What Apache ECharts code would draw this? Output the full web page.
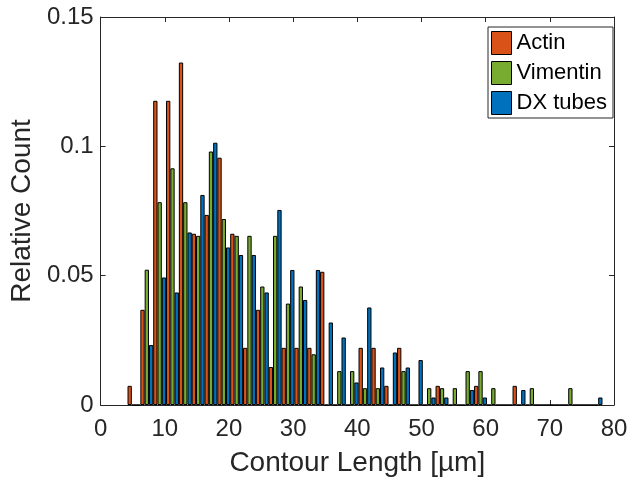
<!DOCTYPE html>
<html><head><meta charset="utf-8">
<script src="https://cdn.jsdelivr.net/npm/echarts@6/dist/echarts.min.js"></script>
<style>html,body{margin:0;padding:0;background:#fff}#c{width:632px;height:482px}</style>
</head><body><div id="c"></div>
<script>
// Bin centres (µm)
const binCenters = [5.2, 7.2, 9.2, 11.2, 13.2, 15.2, 17.2, 19.2, 21.2, 23.2, 25.2, 27.2, 29.2, 31.2, 33.2, 35.2, 37.2, 39.2, 41.2, 43.2, 45.2, 47.2, 49.2, 51.2, 53.2, 55.2, 57.2, 59.2, 61.2, 63.2, 65.2, 67.2, 69.2, 71.2, 73.2, 75.2, 77.2];
const actin = [0.0074, 0.0368, 0.1176, 0.1176, 0.1324, 0.0662, 0.0735, 0.0956, 0.0662, 0.0221, 0.0368, 0.0147, 0.0221, 0.0221, 0.0221, 0.0515, 0, 0, 0.0221, 0.0221, 0.0074, 0.0221, 0, 0, 0.0074, 0, 0, 0.0074, 0, 0, 0.0074, 0, 0, 0, 0, 0, 0];
const vimentin = [0, 0.0523, 0.0784, 0.0915, 0.0784, 0.0654, 0.0980, 0.0719, 0.0654, 0.0654, 0.0458, 0.0654, 0.0392, 0.0458, 0.0196, 0, 0.0131, 0.0131, 0.0065, 0.0065, 0, 0.0131, 0, 0.0065, 0.0065, 0.0065, 0.0131, 0.0131, 0.0065, 0, 0, 0.0065, 0, 0, 0.0065, 0, 0];
const dxTubes = [0, 0.0232, 0.0493, 0.0435, 0.0667, 0.0812, 0.1014, 0.0609, 0.0580, 0.0580, 0.0435, 0.0754, 0.0522, 0.0406, 0.0522, 0.0319, 0.0261, 0.0087, 0.0377, 0.0145, 0.0203, 0.0145, 0.0174, 0.0029, 0.0029, 0, 0.0058, 0.0029, 0, 0, 0.0058, 0, 0, 0, 0, 0, 0.0029];
const seriesNames = ['Actin', 'Vimentin', 'DX tubes'];
const seriesColors = ['#D95319', '#77AC30', '#0072BD'];
const xTicks = {min: 0, max: 80, interval: 10};
const yTicks = {min: 0, max: 0.15, interval: 0.05};
const binWidth = 2;

const W = 632, H = 482;
const grid = {left: 97, right: 18, top: 17, bottom: 75};
const pxPerUnit = (W - grid.left - grid.right) / (xTicks.max - xTicks.min);
const barW = pxPerUnit * binWidth / 3;
const axisCol = '#262626';
const font = "'Liberation Sans', Arial, Helvetica, sans-serif";

function mk(name, vals, color) {
  return {
    name: name, type: 'bar', xAxisIndex: 0, yAxisIndex: 0,
    data: binCenters.map((c, i) => [c, vals[i]]),
    barWidth: barW, barGap: '0%',
    itemStyle: {color: color, borderColor: '#000', borderWidth: 1},
    emphasis: {disabled: true}
  };
}

const chart = echarts.init(document.getElementById('c'), null, {renderer: 'canvas'});
const baseX = {type: 'value', min: xTicks.min, max: xTicks.max, interval: xTicks.interval,
  splitLine: {show: false},
  axisLine: {show: true, onZero: false, lineStyle: {color: axisCol, width: 1}},
  axisTick: {show: true, inside: true, length: 5, lineStyle: {color: axisCol}}};
const baseY = {type: 'value', min: yTicks.min, max: yTicks.max, interval: yTicks.interval,
  splitLine: {show: false},
  axisLine: {show: true, onZero: false, lineStyle: {color: axisCol, width: 1}},
  axisTick: {show: true, inside: true, length: 5, lineStyle: {color: axisCol}}};

chart.setOption({
  animation: false,
  backgroundColor: '#fff',
  textStyle: {fontFamily: font},
  grid: grid,
  legend: {
    data: seriesNames, orient: 'vertical', right: 19, top: 27,
    icon: 'rect', itemWidth: 20, itemHeight: 23, itemGap: 6,
    padding: [4, 6, 3, 3], borderColor: axisCol, borderWidth: 1, backgroundColor: '#fff',
    itemStyle: {borderColor: '#000', borderWidth: 1},
    textStyle: {fontSize: 22, color: '#000', fontFamily: font}
  },
  xAxis: [
    Object.assign({}, baseX, {position: 'bottom',
      axisLabel: {fontSize: 24, color: axisCol, margin: 12, fontFamily: font},
      name: 'Contour Length [µm]', nameLocation: 'middle', nameGap: 44,
      nameTextStyle: {fontSize: 28, color: axisCol, fontFamily: font}}),
    Object.assign({}, baseX, {position: 'top', axisLabel: {show: false}})
  ],
  yAxis: [
    Object.assign({}, baseY, {position: 'left',
      axisLabel: {fontSize: 24, color: axisCol, margin: 7, fontFamily: font},
      name: 'Relative Count', nameLocation: 'middle', nameGap: 60,
      nameTextStyle: {fontSize: 28, color: axisCol, fontFamily: font}}),
    Object.assign({}, baseY, {position: 'right', axisLabel: {show: false}})
  ],
  series: [
    mk(seriesNames[0], actin, seriesColors[0]),
    mk(seriesNames[1], vimentin, seriesColors[1]),
    mk(seriesNames[2], dxTubes, seriesColors[2])
  ]
});
</script></body></html>
